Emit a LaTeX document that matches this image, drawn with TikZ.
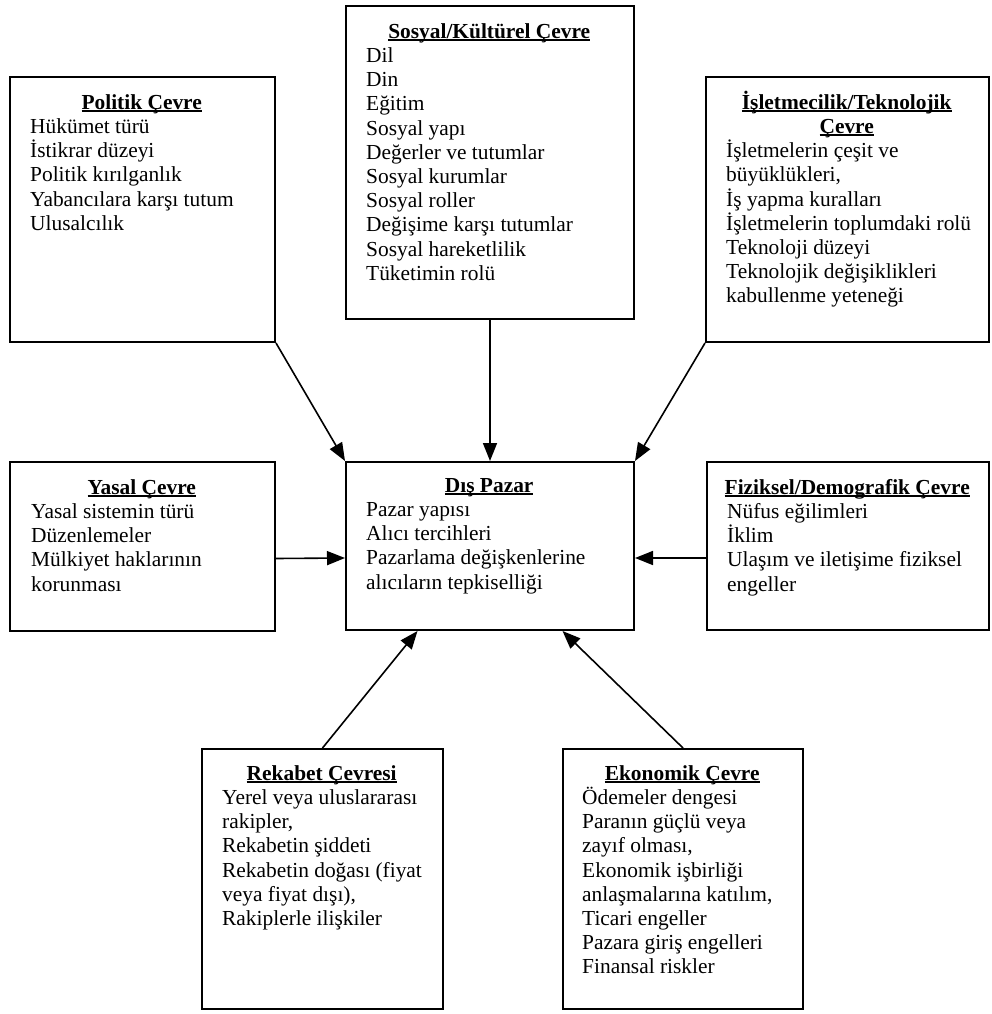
\documentclass[tikz,border=0pt]{standalone}
\usepackage{fontspec}
\setmainfont{Liberation Serif}
\usetikzlibrary{arrows.meta,calc}
\newcommand\ttl[1]{\sbox0{\textbf{#1}}\rlap{\rule[-2.8pt]{\wd0}{1.8pt}}\usebox0}
\newcommand\fs{\rule{0pt}{20pt}}
\tikzset{
  box/.style={draw=black, line width=2pt, fill=white, inner sep=0, anchor=north west},
  txt/.style={inner sep=0, align=left, anchor=north west, font=\fontsize{21.4}{24.2}\selectfont},
  conn/.style={draw=black, line width=1.6pt, -{Triangle[length=18pt,width=14pt]}}
}
\begin{document}
\begin{tikzpicture}[x=1pt,y=-1pt]
\useasboundingbox (0,0) rectangle (991,1014);
% boxes
\node[box, minimum width=288, minimum height=313] (sos) at (345,5) {};
\node[box, minimum width=265, minimum height=265] (pol) at (9,76) {};
\node[box, minimum width=283, minimum height=265] (isl) at (705,76) {};
\node[box, minimum width=265, minimum height=169] (yas) at (9,461) {};
\node[box, minimum width=288, minimum height=168] (dp) at (345,461) {};
\node[box, minimum width=282, minimum height=168] (fiz) at (706,461) {};
\node[box, minimum width=241, minimum height=260] (rek) at (201,748) {};
\node[box, minimum width=240, minimum height=260] (eko) at (562,748) {};
% texts
\node[txt] (sosT) at ([xshift=21,yshift=-13]sos.north west) {\fs\makebox[246pt][c]{\ttl{Sosyal/Kültürel Çevre}}\\
Dil\\ Din\\ Eğitim\\ Sosyal yapı\\ Değerler ve tutumlar\\ Sosyal kurumlar\\ Sosyal roller\\ Değişime karşı tutumlar\\ Sosyal hareketlilik\\ Tüketimin rolü};
\node[txt] (polT) at ([xshift=21,yshift=-13]pol.north west) {\fs\makebox[223pt][c]{\ttl{Politik Çevre}}\\
Hükümet türü\\ İstikrar düzeyi\\ Politik kırılganlık\\ Yabancılara karşı tutum\\ Ulusalcılık};
\node[txt] (islT) at ([xshift=21,yshift=-13]isl.north west) {\fs\makebox[241pt][c]{\ttl{İşletmecilik/Teknolojik}}\\
\makebox[241pt][c]{\ttl{Çevre}}\\
İşletmelerin çeşit ve\\ büyüklükleri,\\ İş yapma kuralları\\ İşletmelerin toplumdaki rolü\\ Teknoloji düzeyi\\ Teknolojik değişiklikleri\\ kabullenme yeteneği};
\node[txt] (yasT) at ([xshift=22,yshift=-13]yas.north west) {\fs\makebox[221pt][c]{\ttl{Yasal Çevre}}\\
Yasal sistemin türü\\ Düzenlemeler\\ Mülkiyet haklarının\\ korunması};
\node[txt] (dpT) at ([xshift=21,yshift=-11]dp.north west) {\fs\makebox[246pt][c]{\ttl{Dış Pazar}}\\
Pazar yapısı\\ Alıcı tercihleri\\ Pazarlama değişkenlerine\\ alıcıların tepkiselliği};
\node[txt] (fizT) at ([xshift=21,yshift=-13]fiz.north west) {\fs\makebox[240pt][c]{\ttl{Fiziksel/Demografik Çevre}}\\
Nüfus eğilimleri\\ İklim\\ Ulaşım ve iletişime fiziksel\\ engeller};
\node[txt] (rekT) at ([xshift=21,yshift=-12]rek.north west) {\fs\makebox[199pt][c]{\ttl{Rekabet Çevresi}}\\
Yerel veya uluslararası\\ rakipler,\\ Rekabetin şiddeti\\ Rekabetin doğası (fiyat\\ veya fiyat dışı),\\ Rakiplerle ilişkiler};
\node[txt] (ekoT) at ([xshift=20,yshift=-12]eko.north west) {\fs\makebox[200pt][c]{\ttl{Ekonomik Çevre}}\\
Ödemeler dengesi\\ Paranın güçlü veya\\ zayıf olması,\\ Ekonomik işbirliği\\ anlaşmalarına katılım,\\ Ticari engeller\\ Pazara giriş engelleri\\ Finansal riskler};
% connectors
\draw[conn] (sos.south) -- (dp.north);
\draw[conn] (pol.south east) -- (dp.north west);
\draw[conn] (isl.south west) -- (dp.north east);
\draw[conn] ([yshift=-12]yas.east) -- ([yshift=-12]dp.west);
\draw[conn] ([yshift=-12]fiz.west) -- ([yshift=-12]dp.east);
\draw[conn] (rek.north) -- ($(dp.south west)!0.25!(dp.south east)$);
\draw[conn] (eko.north) -- ($(dp.south west)!0.75!(dp.south east)$);
\end{tikzpicture}
\end{document}
